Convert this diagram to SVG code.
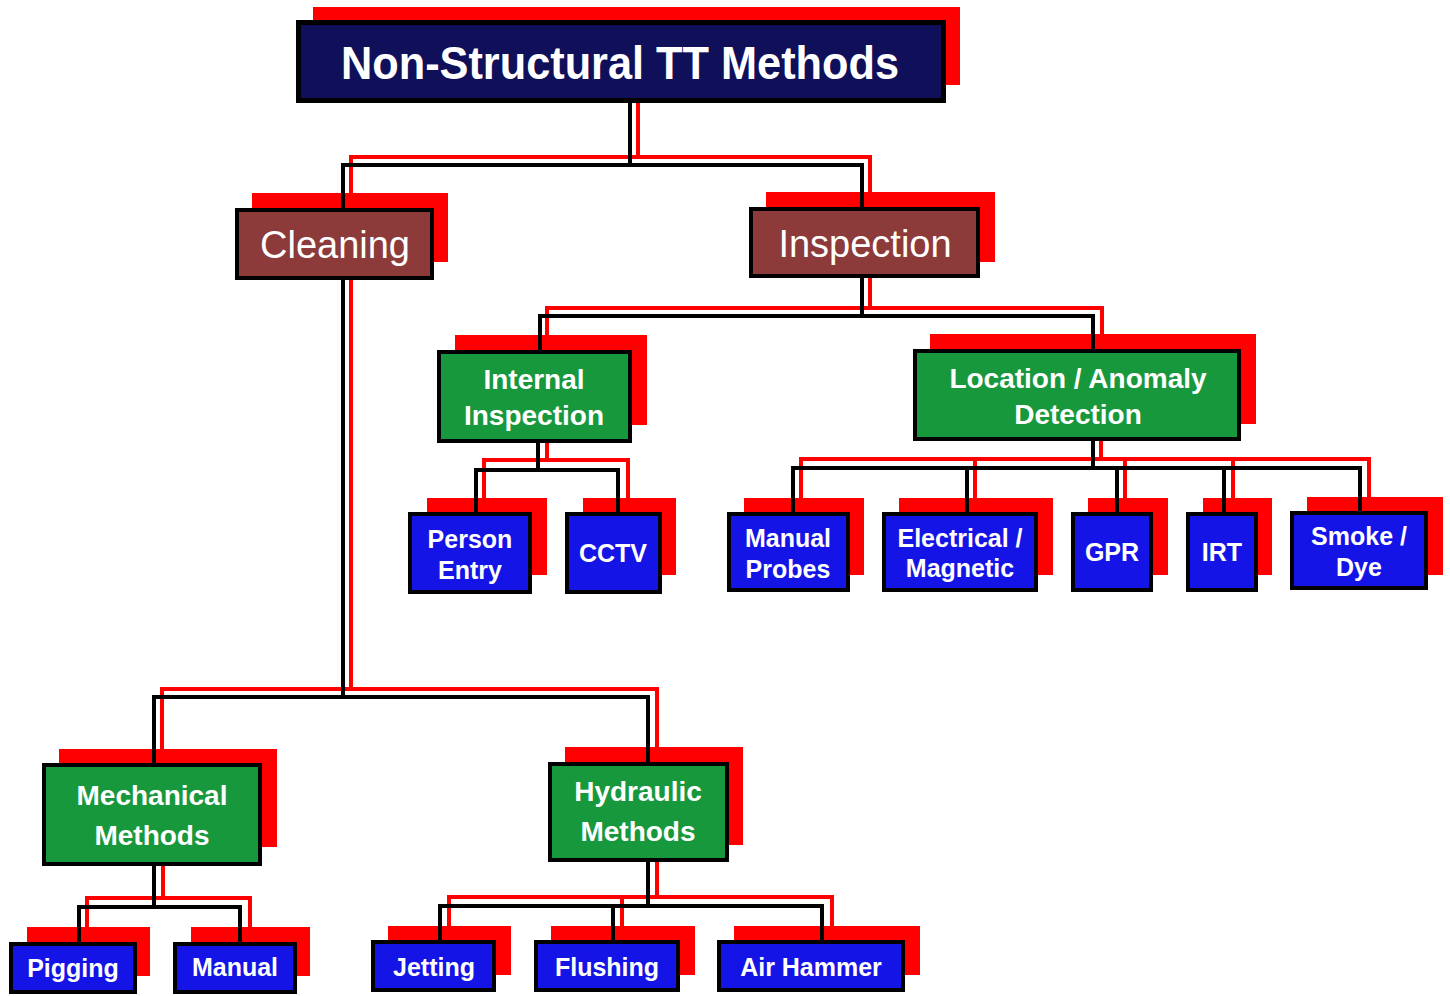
<svg xmlns="http://www.w3.org/2000/svg" width="1450" height="996" viewBox="0 0 1450 996">
<style>
.sh{fill:#ff0000}
.bx{stroke:#000;stroke-width:4}
.tt{fill:#10105a;stroke:#000;stroke-width:5}
.br{fill:#8c3a3a}
.gr{fill:#18983c}
.bl{fill:#1414e6}
text{font-family:"Liberation Sans",Arial,sans-serif;fill:#fff;text-anchor:middle;font-weight:bold}
.t0{font-size:46px}
.t1{font-size:38px;font-weight:normal}
.t2{font-size:28px}
.t3{font-size:25px}
.rd{fill:none;stroke:#ff0000;stroke-width:4}
.bk{fill:none;stroke:#000;stroke-width:4}
</style>
<rect width="1450" height="996" fill="#fff"/>
<g id="title">
<rect class="sh" x="313" y="7" width="647" height="78"/>
<rect class="tt" x="298.5" y="22.5" width="645" height="78"/>
<text class="t0" x="620" y="79" textLength="558" lengthAdjust="spacingAndGlyphs">Non-Structural TT Methods</text>
</g>
<g id="cleaning">
<rect class="sh" x="252" y="193" width="196" height="69"/>
<rect class="bx br" x="237" y="210" width="195" height="68"/>
<text class="t1" x="335" y="258">Cleaning</text>
</g>
<g id="inspection">
<rect class="sh" x="766" y="192" width="229" height="70"/>
<rect class="bx br" x="751" y="209" width="227" height="67"/>
<text class="t1" x="865" y="257">Inspection</text>
</g>
<g id="internal-inspection">
<rect class="sh" x="455" y="335" width="192" height="90"/>
<rect class="bx gr" x="439" y="352" width="191" height="89"/>
<text class="t2" x="534" y="389">Internal</text>
<text class="t2" x="534" y="425">Inspection</text>
</g>
<g id="location-anomaly">
<rect class="sh" x="930" y="334" width="326" height="90"/>
<rect class="bx gr" x="915" y="351" width="324" height="88"/>
<text class="t2" x="1078" y="388">Location / Anomaly</text>
<text class="t2" x="1078" y="424">Detection</text>
</g>
<g id="person-entry">
<rect class="sh" x="427" y="498" width="120" height="77"/>
<rect class="bx bl" x="410" y="514" width="120" height="78"/>
<text class="t3" x="470" y="548">Person</text>
<text class="t3" x="470" y="579">Entry</text>
</g>
<g id="cctv">
<rect class="sh" x="583" y="498" width="93" height="77"/>
<rect class="bx bl" x="567" y="514" width="93" height="78"/>
<text class="t3" x="613" y="562">CCTV</text>
</g>
<g id="manual-probes">
<rect class="sh" x="744" y="498" width="120" height="77"/>
<rect class="bx bl" x="729" y="514" width="119" height="76"/>
<text class="t3" x="788" y="547">Manual</text>
<text class="t3" x="788" y="578">Probes</text>
</g>
<g id="electrical-magnetic">
<rect class="sh" x="899" y="498" width="154" height="77"/>
<rect class="bx bl" x="884" y="514" width="152" height="76"/>
<text class="t3" x="960" y="547">Electrical /</text>
<text class="t3" x="960" y="577">Magnetic</text>
</g>
<g id="gpr">
<rect class="sh" x="1088" y="498" width="80" height="77"/>
<rect class="bx bl" x="1073" y="514" width="78" height="76"/>
<text class="t3" x="1112" y="561">GPR</text>
</g>
<g id="irt">
<rect class="sh" x="1203" y="498" width="69" height="77"/>
<rect class="bx bl" x="1188" y="514" width="68" height="76"/>
<text class="t3" x="1222" y="561">IRT</text>
</g>
<g id="smoke-dye">
<rect class="sh" x="1307" y="497" width="136" height="78"/>
<rect class="bx bl" x="1292" y="513" width="134" height="75"/>
<text class="t3" x="1359" y="545">Smoke /</text>
<text class="t3" x="1359" y="576">Dye</text>
</g>
<g id="mechanical">
<rect class="sh" x="59" y="749" width="218" height="98"/>
<rect class="bx gr" x="44" y="765" width="216" height="99"/>
<text class="t2" x="152" y="805">Mechanical</text>
<text class="t2" x="152" y="845">Methods</text>
</g>
<g id="hydraulic">
<rect class="sh" x="565" y="747" width="178" height="98"/>
<rect class="bx gr" x="550" y="764" width="177" height="96"/>
<text class="t2" x="638" y="801">Hydraulic</text>
<text class="t2" x="638" y="841">Methods</text>
</g>
<g id="pigging">
<rect class="sh" x="27" y="927" width="123" height="49"/>
<rect class="bx bl" x="11" y="944" width="124" height="48"/>
<text class="t3" x="73" y="977">Pigging</text>
</g>
<g id="manual">
<rect class="sh" x="191" y="927" width="119" height="49"/>
<rect class="bx bl" x="175" y="944" width="120" height="48"/>
<text class="t3" x="235" y="976">Manual</text>
</g>
<g id="jetting">
<rect class="sh" x="388" y="926" width="123" height="49"/>
<rect class="bx bl" x="373" y="942" width="121" height="48"/>
<text class="t3" x="434" y="976">Jetting</text>
</g>
<g id="flushing">
<rect class="sh" x="551" y="926" width="144" height="49"/>
<rect class="bx bl" x="536" y="942" width="142" height="48"/>
<text class="t3" x="607" y="976">Flushing</text>
</g>
<g id="air-hammer">
<rect class="sh" x="734" y="926" width="186" height="49"/>
<rect class="bx bl" x="719" y="942" width="184" height="48"/>
<text class="t3" x="811" y="976">Air Hammer</text>
</g>
<g id="connectors">
<path class="rd" d="M638,103 V157 M351,193 V157 H870 V192"/>
<path class="bk" d="M630,103 V165 M343,208 V165 H862 V207"/>
<path class="rd" d="M351,280 V689 M162,749 V689 H657 V747"/>
<path class="bk" d="M343,280 V697 M154,763 V697 H648 V762"/>
<path class="rd" d="M870,278 V308 M547,335 V308 H1102 V334"/>
<path class="bk" d="M862,278 V316 M540,350 V316 H1093 V349"/>
<path class="rd" d="M547,443 V460 M484,498 V460 H628 V498"/>
<path class="bk" d="M538,443 V470 M476,512 V470 H618 V512"/>
<path class="rd" d="M1101,441 V459 M801,498 V459 H1369 V497 M975,459 V498 M1125,459 V498 M1233,459 V498"/>
<path class="bk" d="M1093,441 V468 M793,512 V468 H1360 V511 M967,468 V512 M1117,468 V512 M1224,468 V512"/>
<path class="rd" d="M163,866 V898 M87,927 V898 H250 V927"/>
<path class="bk" d="M154,866 V907 M79,942 V907 H240 V942"/>
<path class="rd" d="M657,862 V897 M449,926 V897 H832 V926 M622,897 V926"/>
<path class="bk" d="M648,862 V906 M440,940 V906 H822 V940 M613,906 V940"/>
</g>
</svg>
